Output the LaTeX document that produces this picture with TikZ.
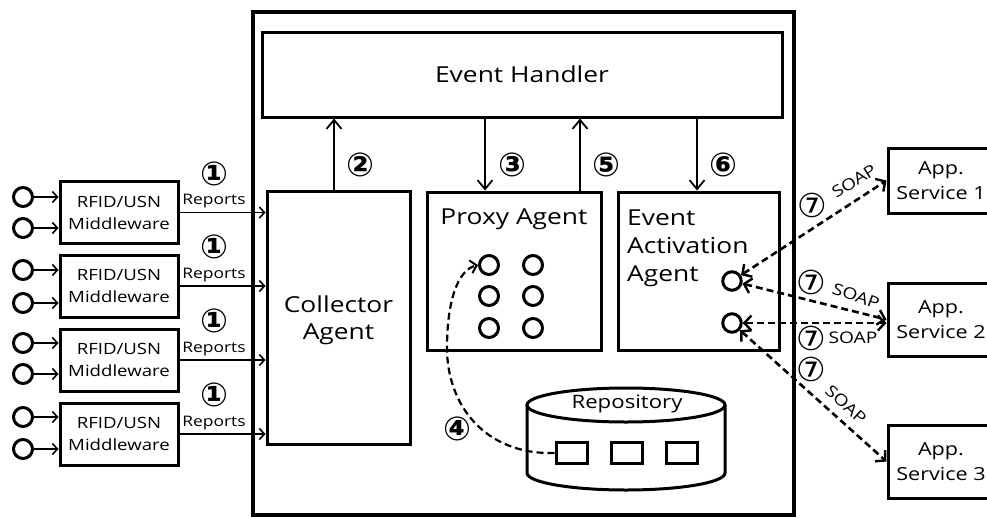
\documentclass[tikz,border=0pt]{standalone}
\usepackage{fontspec}
\setmainfont{Open Sans}[FakeStretch=1.2]
\newfontfamily\circfont{DejaVu Sans}
\usetikzlibrary{arrows.meta,calc}

\tikzset{
  frame/.style={draw, line width=3pt, inner sep=0pt},
  lbl/.style={inner sep=0pt, align=center},
  big/.style={lbl, font=\fontsize{22}{27}\selectfont},
  mid/.style={lbl, font=\fontsize{15.5}{22}\selectfont},
  dot/.style={circle, draw, line width=3pt, minimum size=19pt, inner sep=0pt},
  flow/.style={line width=1.8pt, -{Straight Barb[length=9pt,width=15pt,line width=1.8pt]}},
  feed/.style={line width=1.3pt, -{Straight Barb[length=5pt,width=11pt,line width=1.6pt]}},
  soap/.style={line width=2.6pt, dash pattern=on 7pt off 4pt,
    {Straight Barb[length=7pt,width=15pt,line width=2.4pt]}-{Straight Barb[length=7pt,width=15pt,line width=2.4pt]}},
  num/.style={inner sep=0pt, font=\circfont\bfseries\fontsize{33}{33}\selectfont},
  numl/.style={inner sep=0pt, font=\circfont\fontsize{33}{33}\selectfont},
  tag/.style={inner sep=0pt, font=\fontsize{14.5}{16}\selectfont},
  soaptag/.style={inner sep=0pt, font=\fontsize{16}{16}\selectfont},
}

\begin{document}
\begin{tikzpicture}[x=1pt,y=-1pt]
\useasboundingbox (0,0) rectangle (987,517);
\clip (0,0) rectangle (987,517);

% server frame and its components
\node[frame, line width=3.5pt, minimum width=541pt, minimum height=503pt] (srv) at (523.5,263.5) {};
\node[big, frame, minimum width=520pt, minimum height=85pt] (eh) at (522,74.5) {Event Handler};
\node[big, frame, minimum width=143pt, minimum height=253pt, text depth=0pt] (coll) at (338.5,317.5) {Collector\\Agent};
\node[frame, minimum width=174pt, minimum height=158pt] (proxy) at (514,271) {};
\node[big] (proxyt) at (514,219) {Proxy Agent};
\node[frame, minimum width=161pt, minimum height=158pt] (eaa) at (698.5,271) {};
\node[big, align=left, anchor=north west] (eaat) at (627,210) {Event\\[1pt]Activation\\[1pt]Agent};

% agent slots
\node[dot] (p11) at (489,265) {};
\node[dot] (p12) at (533,265) {};
\node[dot] (p21) at (489,296) {};
\node[dot] (p22) at (533,296) {};
\node[dot] (p31) at (489,328) {};
\node[dot] (p32) at (533,328) {};
\node[dot, minimum size=18.5pt] (e1) at (732,281) {};
\node[dot, minimum size=18.5pt] (e2) at (732,323) {};

% repository
\draw[line width=3pt] (527,405) -- (527,473) arc[x radius=99pt, y radius=17pt, start angle=180, end angle=360] -- (725,405);
\draw[line width=3pt] (626,405) ellipse[x radius=99pt, y radius=17pt];
\node[lbl, font=\fontsize{18.5}{20}\selectfont] (repo) at (627,404) {Repository};
\node[frame, minimum width=31pt, minimum height=21pt] (r1) at (571.5,453) {};
\node[frame, minimum width=31pt, minimum height=21pt] (r2) at (627,453) {};
\node[frame, minimum width=31pt, minimum height=21pt] (r3) at (681.5,453) {};

% middleware boxes with their readers
\foreach \i/\y/\ya/\yb in {1/212.5/197/228, 2/286/270/303, 3/360/343/374, 4/434/417/449}{
  \node[mid, frame, minimum width=118pt, minimum height=62pt] (rf\i) at (119,\y) {RFID/USN\\Middleware};
  \node[dot] (ca\i) at (23,\ya) {};
  \node[dot] (cb\i) at (23,\yb) {};
  \draw[feed, line width=1.8pt] (ca\i.east) -- (rf\i.west |- ca\i.east);
  \draw[feed, line width=1.8pt] (cb\i.east) -- (rf\i.west |- cb\i.east);
  \draw[feed] (rf\i.east) -- (coll.west |- rf\i.east);
  \node[tag] (rep\i) at (214,\y-11) {Reports};
  \node[num] (n1\i) at (214,\y-39) {①};
}

% application services
\node[lbl, frame, minimum width=106pt, minimum height=65pt, font=\fontsize{18}{25}\selectfont] (app1) at (941,180.5) {App.\\Service 1};
\node[lbl, frame, minimum width=106pt, minimum height=73pt, font=\fontsize{18}{25}\selectfont] (app2) at (941,319.5) {App.\\Service 2};
\node[lbl, frame, minimum width=106pt, minimum height=73pt, font=\fontsize{18}{25}\selectfont] (app3) at (941,461.5) {App.\\Service 3};

% event flow inside the server
\draw[flow] ([xshift=-4.5pt]coll.north) -- ([xshift=-4.5pt]coll.north |- eh.south);
\draw[flow] ([xshift=-29pt]proxy.north |- eh.south) -- ([xshift=-29pt]proxy.north);
\draw[flow] ([xshift=66pt]proxy.north) -- ([xshift=66pt]proxy.north |- eh.south);
\draw[flow] ([xshift=-1.5pt]eaa.north |- eh.south) -- ([xshift=-1.5pt]eaa.north);
\node[num] (n2) at (360,165) {②};
\node[num] (n3) at (512,165) {③};
\node[num] (n5) at (606,165) {⑤};
\node[num] (n6) at (723,165) {⑥};

% loading an agent from the repository
\draw[line width=2.2pt, dash pattern=on 7pt off 4pt, -{Straight Barb[length=6pt,width=13pt,line width=2pt]}]
  (r1.west) .. controls (485,455) and (447,405) .. (447,348)
  .. controls (447,300) and (458,270) .. (p11.west);
\node[num] (n4) at (457,429) {④};

% SOAP exchanges with the services
\draw[soap] (e1) -- (app1.west);
\draw[soap] (e1) -- (app2.west);
\draw[soap] (e2) -- (e2 -| app2.west);
\draw[soap] (e2) -- (app3.west);
\node[numl] (n7a) at (812,205) {⑦};
\node[soaptag, rotate=32] (s1) at (854,181) {SOAP};
\node[numl] (n7b) at (811,282) {⑦};
\node[soaptag, rotate=-20] (s2) at (856,296) {SOAP};
\node[numl] (n7c) at (811,338) {⑦};
\node[soaptag] (s3) at (853,338) {SOAP};
\node[numl] (n7d) at (811,369) {⑦};
\node[soaptag, rotate=-42] (s4) at (846,405) {SOAP};
\end{tikzpicture}
\end{document}
